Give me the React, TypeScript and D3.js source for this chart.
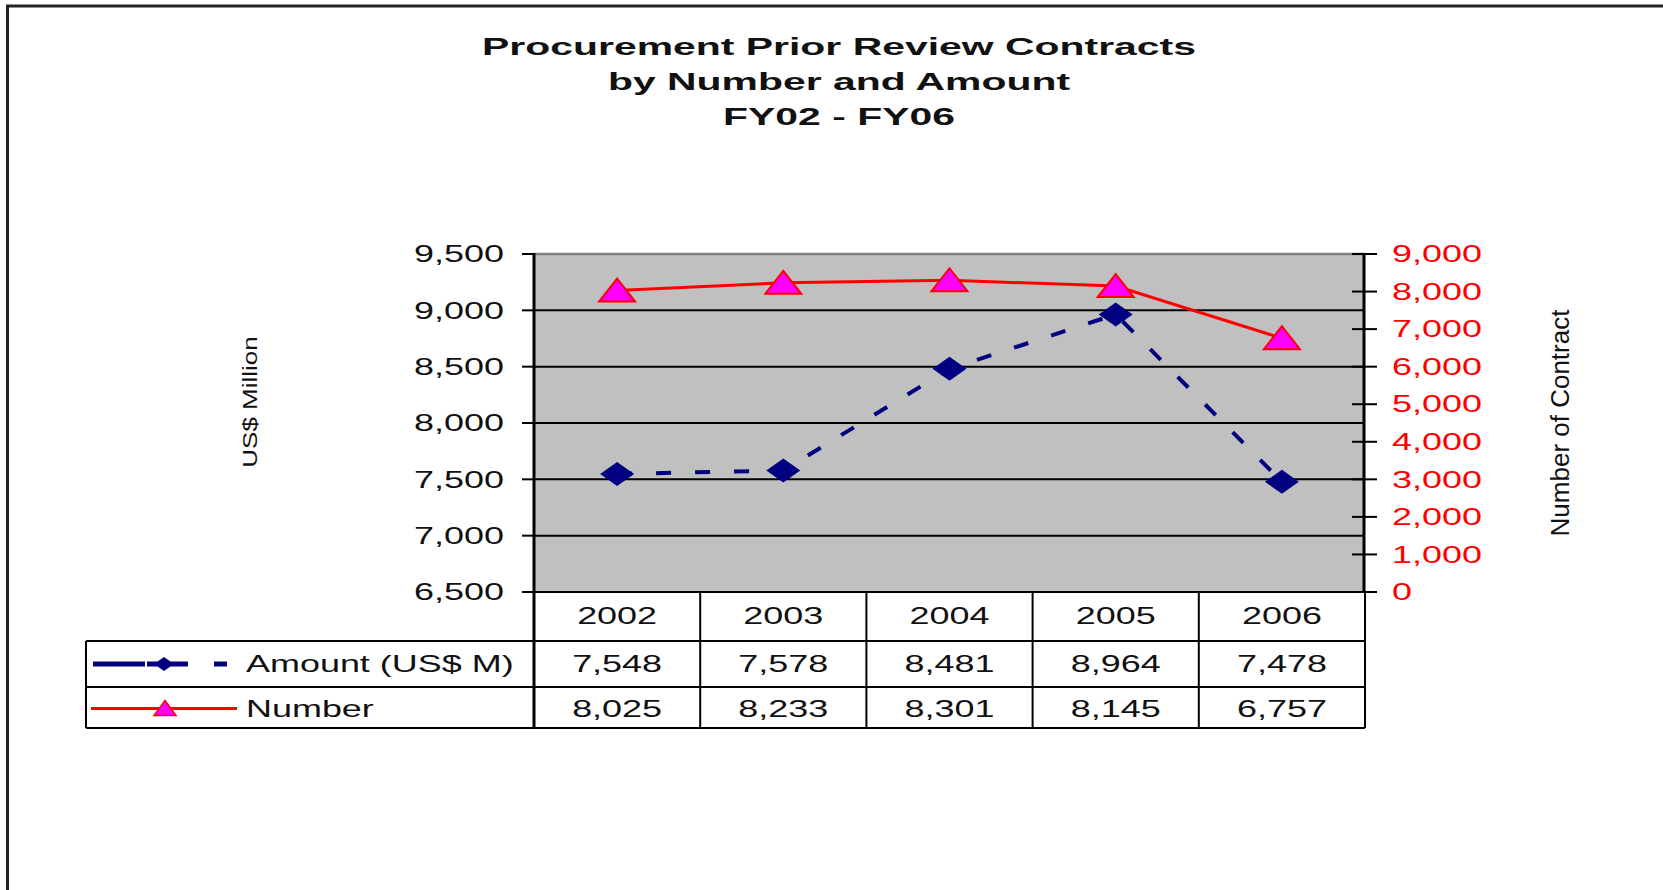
import * as d3 from 'd3'

const years = ['2002', '2003', '2004', '2005', '2006']
const amount = [7548, 7578, 8481, 8964, 7478]
const number = [8025, 8233, 8301, 8145, 6757]
const leftTicks = [6500, 7000, 7500, 8000, 8500, 9000, 9500]
const rightTicks = [0, 1000, 2000, 3000, 4000, 5000, 6000, 7000, 8000, 9000]
const titleLines = ['Procurement Prior Review Contracts', 'by Number and Amount', 'FY02 - FY06']
const seriesNames = ['Amount (US$ M)', 'Number']

const W = 1663
const H = 890
const plot = { left: 534, right: 1365, top: 254, bottom: 592 }
const rows = [592, 641, 687, 728]
const tableLeft = 86
const SX = 1.53
const font = 'Liberation Sans, Arial, sans-serif'
const NAVY = '#000080'
const RED = '#FF0000'

export default function App() {
  const x = d3.scaleBand<string>().domain(years).range([plot.left, plot.right])
  const cx = (d: string) => (x(d) as number) + x.bandwidth() / 2
  const yL = d3.scaleLinear().domain([6500, 9500]).range([plot.bottom, plot.top])
  const yR = d3.scaleLinear().domain([0, 9000]).range([plot.bottom, plot.top])
  const fmt = d3.format(',')

  const amountLine = d3.line<number>().x((_, i) => cx(years[i])).y(d => yL(d))(amount) || ''
  const numberLine = d3.line<number>().x((_, i) => cx(years[i])).y(d => yR(d))(number) || ''

  const diamond = 'M0,-12L17,0L0,12L-17,0Z'
  const triangle = 'M0,-12L18,11L-18,11Z'

  const txt = (s: string, tx: number, ty: number, anchor: string, fill = '#111', key?: string | number) => (
    <text key={key} transform={`translate(${tx},${ty}) scale(${SX},1)`} textAnchor={anchor}
      dy="0.35em" fontFamily={font} fontSize={23.5} fill={fill}>{s}</text>
  )

  const rowMid = (i: number) => (rows[i] + rows[i + 1]) / 2

  return (
    <svg width={W} height={H} style={{ position: 'absolute', left: 0, top: 0, background: '#fff' }}>
      <rect x={0} y={0} width={W} height={H} fill="#fff" />
      {/* chart frame: only top and left edges are visible */}
      <path d={`M7.5,${H} V6 H${W}`} fill="none" stroke="#222" strokeWidth={3} />

      {titleLines.map((t, i) => (
        <text key={t} transform={`translate(839,${55 + i * 35}) scale(1.67,1)`} textAnchor="middle"
          fontFamily={font} fontWeight="bold" fontSize={24.5} fill="#111">{t}</text>
      ))}

      {/* plot area */}
      <rect x={plot.left} y={plot.top} width={plot.right - plot.left} height={plot.bottom - plot.top} fill="#C0C0C0" />
      <line x1={plot.left} x2={plot.right} y1={plot.top} y2={plot.top} stroke="#808080" strokeWidth={2.5} />
      {leftTicks.slice(1, -1).map(t => (
        <line key={t} x1={plot.left} x2={plot.right} y1={yL(t)} y2={yL(t)} stroke="#000" strokeWidth={2} />
      ))}

      {/* left axis */}
      {leftTicks.map(t => (
        <g key={t}>
          <line x1={522} x2={plot.left} y1={yL(t)} y2={yL(t)} stroke="#000" strokeWidth={2} />
          {txt(fmt(t), 504, yL(t), 'end')}
        </g>
      ))}
      <line x1={plot.left} x2={plot.left} y1={plot.top - 1} y2={rows[3]} stroke="#000" strokeWidth={3} />

      {/* right axis */}
      {rightTicks.map(t => (
        <g key={t}>
          <line x1={plot.right - 13} x2={plot.right + 12} y1={yR(t)} y2={yR(t)} stroke="#000" strokeWidth={2} />
          {txt(fmt(t), 1392, yR(t), 'start', RED)}
        </g>
      ))}
      <line x1={plot.right - 1} x2={plot.right - 1} y1={plot.top - 1} y2={plot.bottom} stroke="#000" strokeWidth={3} />

      <text transform="translate(250,402) rotate(-90) scale(1.3,1)" textAnchor="middle" dy="0.35em"
        fontFamily={font} fontSize={20} fill="#111">US$ Million</text>
      <text transform="translate(1560,423) rotate(-90)" textAnchor="middle" dy="0.35em"
        fontFamily={font} fontSize={26} fill="#111">Number of Contract</text>

      {/* series */}
      <path d={numberLine} fill="none" stroke={RED} strokeWidth={3} />
      <path d={amountLine} fill="none" stroke={NAVY} strokeWidth={4} strokeDasharray="15 24" />
      {amount.map((v, i) => (
        <path key={'a' + i} d={diamond} transform={`translate(${cx(years[i])},${yL(v)})`} fill={NAVY} />
      ))}
      {number.map((v, i) => (
        <path key={'n' + i} d={triangle} transform={`translate(${cx(years[i])},${yR(v)})`}
          fill="#FF00FF" stroke={RED} strokeWidth={2} />
      ))}

      {/* data table */}
      <g stroke="#000" strokeWidth={2} fill="none">
        <line x1={plot.left} x2={plot.right} y1={rows[0]} y2={rows[0]} />
        <line x1={tableLeft} x2={plot.right} y1={rows[1]} y2={rows[1]} />
        <line x1={tableLeft} x2={plot.right} y1={rows[2]} y2={rows[2]} />
        <line x1={tableLeft} x2={plot.right} y1={rows[3]} y2={rows[3]} />
        <line x1={tableLeft} x2={tableLeft} y1={rows[1]} y2={rows[3]} />
        {years.map(yr => (
          <line key={yr} x1={(x(yr) as number) + x.bandwidth()} x2={(x(yr) as number) + x.bandwidth()}
            y1={rows[0]} y2={rows[3]} />
        ))}
      </g>
      {years.map(yr => txt(yr, cx(yr), rowMid(0) - 1, 'middle', '#111', 'y' + yr))}
      {amount.map((v, i) => txt(fmt(v), cx(years[i]), rowMid(1), 'middle', '#111', 'av' + i))}
      {number.map((v, i) => txt(fmt(v), cx(years[i]), rowMid(2) + 1, 'middle', '#111', 'nv' + i))}

      {/* legend keys */}
      <line x1={93} x2={227} y1={rowMid(1)} y2={rowMid(1)} stroke={NAVY} strokeWidth={5}
        strokeDasharray="52 2 41 26 13 100" />
      <path d="M0,-7L10,0L0,7L-10,0Z" transform={`translate(164,${rowMid(1)})`} fill={NAVY} />
      {txt(seriesNames[0], 246, rowMid(1), 'start')}
      <line x1={91} x2={237} y1={rowMid(2) + 1} y2={rowMid(2) + 1} stroke={RED} strokeWidth={3} />
      <path d="M0,-8L11,7L-11,7Z" transform={`translate(165,${rowMid(2) + 1})`} fill="#FF00FF" stroke={RED} strokeWidth={1.5} />
      {txt(seriesNames[1], 246, rowMid(2) + 1, 'start')}
    </svg>
  )
}
